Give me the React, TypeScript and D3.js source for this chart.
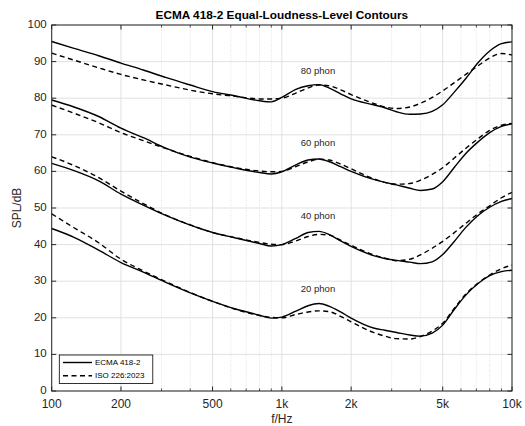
import React from 'react';
import * as d3 from 'd3';

// frequency grid (Hz)
const freqs = [100, 125, 160, 200, 250, 315, 400, 500, 630, 800, 900, 1000, 1150, 1300, 1450, 1600, 1800, 2000, 2500, 2800, 3150, 3600, 4000, 4500, 5000, 5600, 6300, 7100, 8000, 9000, 10000];

// ECMA 418-2 contours (dB SPL)
const ecma80 = [95.5, 93.6, 91.6, 89.6, 87.7, 85.6, 83.6, 81.8, 80.6, 79.3, 79.0, 80.2, 82.4, 83.4, 83.7, 82.8, 81.2, 79.8, 78.2, 77.4, 76.3, 75.6, 75.7, 76.4, 78.2, 81.6, 85.4, 89.6, 92.9, 94.9, 95.4];
const ecma60 = [79.5, 77.6, 75.0, 71.8, 69.2, 66.3, 63.9, 62.3, 60.9, 59.7, 59.3, 59.9, 61.8, 63.1, 63.4, 62.7, 61.3, 60.0, 57.8, 57.0, 56.3, 55.4, 54.8, 55.2, 57.2, 61.0, 64.9, 68.0, 70.6, 72.3, 73.0];
const ecma40 = [62.2, 60.2, 57.4, 53.8, 50.8, 47.9, 45.3, 43.3, 41.8, 40.3, 39.6, 40.0, 41.7, 43.3, 43.6, 42.8, 41.0, 39.5, 37.0, 36.2, 35.7, 35.2, 34.8, 35.3, 37.3, 40.8, 44.7, 47.9, 50.2, 51.8, 52.6];
const ecma20 = [44.4, 42.0, 38.5, 35.1, 32.5, 29.6, 26.8, 24.5, 22.4, 20.7, 19.9, 20.2, 21.8, 23.3, 23.9, 23.2, 21.6, 19.9, 17.2, 16.6, 16.0, 15.3, 15.0, 15.8, 18.0, 22.2, 26.2, 29.3, 31.5, 32.6, 33.0];

// ISO 226:2023 contours (dB SPL)
const iso80 = [92.3, 90.4, 88.3, 86.5, 85.0, 83.6, 82.2, 81.2, 80.5, 79.8, 79.8, 80.0, 81.4, 82.8, 83.6, 83.4, 82.3, 81.0, 78.6, 77.6, 77.2, 77.6, 78.6, 80.2, 82.0, 84.2, 86.5, 88.8, 91.0, 92.2, 91.8];
const iso60 = [78.1, 75.9, 73.3, 70.6, 68.4, 66.2, 64.1, 62.4, 61.0, 60.1, 59.9, 60.0, 61.3, 62.6, 63.3, 63.1, 62.0, 60.7, 58.0, 57.0, 56.5, 56.7, 57.6, 59.2, 61.0, 63.6, 66.3, 68.9, 71.2, 72.6, 73.1];
const iso40 = [64.0, 61.6, 58.3, 54.6, 51.2, 48.0, 45.4, 43.3, 41.9, 40.6, 40.1, 40.0, 41.0, 42.2, 42.8, 42.6, 41.2, 39.8, 37.2, 36.3, 35.6, 36.0, 37.2, 39.0, 40.9, 43.2, 45.8, 48.4, 50.6, 52.8, 54.3];
const iso20 = [48.4, 44.6, 40.5, 36.0, 32.8, 29.8, 26.9, 24.5, 22.3, 20.6, 20.1, 20.0, 20.9, 21.6, 21.9, 21.7, 20.4, 18.9, 16.0, 15.0, 14.3, 14.2, 14.9, 16.4, 18.5, 22.5, 26.5, 29.4, 31.7, 33.4, 34.4];

const phonLevels = [80, 60, 40, 20];
const phonLabelY = [87.4, 67.5, 47.6, 27.8];
const ecmaSeries = [ecma80, ecma60, ecma40, ecma20];
const isoSeries = [iso80, iso60, iso40, iso20];

const xTicks = [100, 200, 500, 1000, 2000, 5000, 10000];
const xTickLabels = ['100', '200', '500', '1k', '2k', '5k', '10k'];
const yTicks = [0, 10, 20, 30, 40, 50, 60, 70, 80, 90, 100];

const W = 525;
const H = 426;
const m = { left: 51.7, right: 13, top: 25, bottom: 35 };
const font = '"Liberation Sans", Arial, Helvetica, sans-serif';
const axisColor = '#262626';

export default function App() {
  const x = d3.scaleLog().domain([100, 10000]).range([m.left, W - m.right]);
  const y = d3.scaleLinear().domain([0, 100]).range([H - m.bottom, m.top]);

  const line = d3.line<number>()
    .x((d, i) => x(freqs[i]))
    .y(d => y(d))
    .curve(d3.curveMonotoneX);

  // minor ticks on the log axis
  const minor: number[] = [];
  [100, 1000].forEach(dec => {
    for (let k = 2; k <= 9; k++) {
      const f = dec * k;
      if (!xTicks.includes(f)) minor.push(f);
    }
  });

  const x0 = m.left, x1 = W - m.right, y0 = H - m.bottom, y1 = m.top;

  return (
    <div>
      <style>{'body{margin:0}'}</style>
      <svg width={W} height={H} style={{ display: 'block', fontFamily: font }}>
        <rect x={0} y={0} width={W} height={H} fill="#fff" />
        <rect x={x0} y={y1} width={x1 - x0} height={y0 - y1} fill="#fff" />

        {/* grid */}
        {minor.map(f => (
          <line key={'mg' + f} x1={x(f)} x2={x(f)} y1={y1} y2={y0}
            stroke="#cfcfcf" strokeWidth={0.6} strokeDasharray="1,1.5" />
        ))}
        {xTicks.map(f => (
          <line key={'xg' + f} x1={x(f)} x2={x(f)} y1={y1} y2={y0} stroke="#dedede" strokeWidth={0.9} />
        ))}
        {yTicks.map(v => (
          <line key={'yg' + v} x1={x0} x2={x1} y1={y(v)} y2={y(v)} stroke="#dedede" strokeWidth={0.9} />
        ))}

        {/* curves */}
        {isoSeries.map((s, i) => (
          <path key={'iso' + i} d={line(s) || ''} fill="none" stroke="#000" strokeWidth={1.4} strokeDasharray="5,3.5" />
        ))}
        {ecmaSeries.map((s, i) => (
          <path key={'ecma' + i} d={line(s) || ''} fill="none" stroke="#000" strokeWidth={1.4} />
        ))}

        {/* phon labels */}
        {phonLevels.map((p, i) => (
          <text key={'ph' + p} x={x(1436)} y={y(phonLabelY[i])} fontSize={9.5} fill="#262626"
            textAnchor="middle" dominantBaseline="middle">{p} phon</text>
        ))}

        {/* axes box */}
        <rect x={x0} y={y1} width={x1 - x0} height={y0 - y1} fill="none" stroke={axisColor} strokeWidth={1} />

        {/* ticks */}
        {xTicks.map(f => (
          <g key={'xt' + f}>
            <line x1={x(f)} x2={x(f)} y1={y0} y2={y0 - 4.5} stroke={axisColor} />
            <line x1={x(f)} x2={x(f)} y1={y1} y2={y1 + 4.5} stroke={axisColor} />
          </g>
        ))}
        {minor.map(f => (
          <g key={'xm' + f}>
            <line x1={x(f)} x2={x(f)} y1={y0} y2={y0 - 2.5} stroke={axisColor} strokeWidth={0.8} />
            <line x1={x(f)} x2={x(f)} y1={y1} y2={y1 + 2.5} stroke={axisColor} strokeWidth={0.8} />
          </g>
        ))}
        {yTicks.map(v => (
          <g key={'yt' + v}>
            <line x1={x0} x2={x0 + 4.5} y1={y(v)} y2={y(v)} stroke={axisColor} />
            <line x1={x1} x2={x1 - 4.5} y1={y(v)} y2={y(v)} stroke={axisColor} />
          </g>
        ))}

        {/* tick labels */}
        {xTicks.map((f, i) => (
          <text key={'xl' + f} x={x(f)} y={y0 + 16.5} fontSize={12} fill={axisColor} textAnchor="middle">{xTickLabels[i]}</text>
        ))}
        {yTicks.map(v => (
          <text key={'yl' + v} x={x0 - 5} y={y(v)} fontSize={11.5} fill={axisColor} textAnchor="end" dominantBaseline="middle">{v}</text>
        ))}

        {/* axis labels and title */}
        <text x={(x0 + x1) / 2} y={H - 3} fontSize={12} fill={axisColor} textAnchor="middle">f/Hz</text>
        <text transform={`translate(21,${(y0 + y1) / 2}) rotate(-90)`} fontSize={12} fill={axisColor} textAnchor="middle">SPL/dB</text>
        <text x={(x0 + x1) / 2} y={19} fontSize={11.8} fontWeight="bold" fill="#000" textAnchor="middle">ECMA 418-2 Equal-Loudness-Level Contours</text>

        {/* legend */}
        <g>
          <rect x={59.3} y={355} width={93.5} height={28.5} fill="#fff" stroke="#000" strokeWidth={0.8} />
          <line x1={63} x2={92} y1={362.5} y2={362.5} stroke="#000" strokeWidth={1.4} />
          <line x1={63} x2={92} y1={375.8} y2={375.8} stroke="#000" strokeWidth={1.4} strokeDasharray="5,3.5" />
          <text x={95} y={362.5} fontSize={8} fill="#000" dominantBaseline="middle">ECMA 418-2</text>
          <text x={95} y={375.8} fontSize={8} fill="#000" dominantBaseline="middle">ISO 226:2023</text>
        </g>
      </svg>
    </div>
  );
}
